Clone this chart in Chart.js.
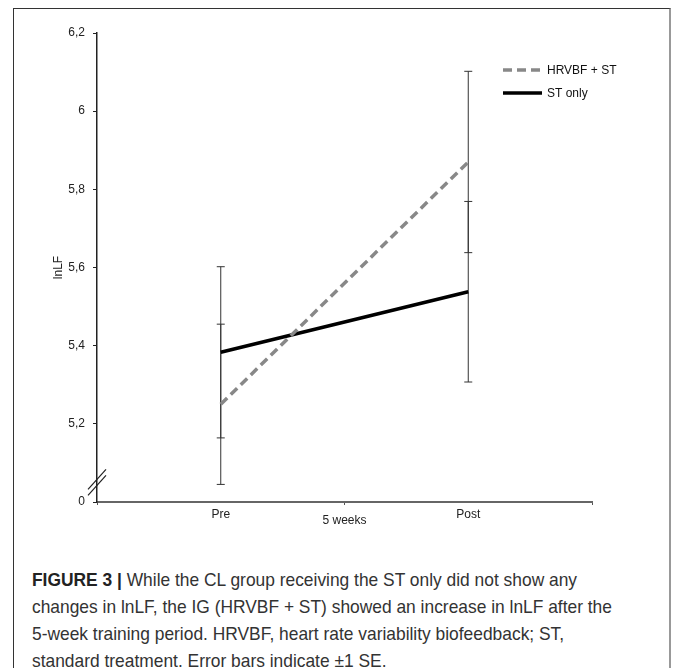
<!DOCTYPE html>
<html>
<head>
<meta charset="utf-8">
<script src="https://cdn.jsdelivr.net/npm/chart.js@4.4.1/dist/chart.umd.min.js"></script>
<style>
  body { margin: 0; background: #fff; }
  #frame { position: absolute; left: 13px; top: 8px; width: 655px; height: 700px;
           border-left: 1px solid #333; border-top: 1px solid #333; border-right: 2px solid #999; }
  #chart { position: absolute; left: 0; top: 0; }
  #caption { position: absolute; left: 32px; top: 566px; width: 680px;
             font-family: "Liberation Sans", Arial, sans-serif;
             font-size: 19px; line-height: 27px; color: #333; white-space: nowrap;
             transform: scaleX(0.915); transform-origin: left top; }
  #caption b { color: #222; }
</style>
</head>
<body>
<div id="frame"></div>
<canvas id="chart" width="675" height="555"></canvas>
<div id="caption">
<b>FIGURE 3 |</b> While the CL group receiving the ST only did not show any<br>
changes in lnLF, the IG (HRVBF + ST) showed an increase in lnLF after the<br>
5-week training period. HRVBF, heart rate variability biofeedback; ST,<br>
standard treatment. Error bars indicate &plusmn;1 SE.
</div>
<script>
'use strict';
// data
const categories = ['Pre', 'Post'];
const hrvbfMean = [5.25, 5.87];
const hrvbfSE = [0.205, 0.232];
const stMean = [5.383, 5.538];
const stSE = [0.219, 0.231];
const yTicks = [5, 5.2, 5.4, 5.6, 5.8, 6, 6.2];

const font = { family: '"Liberation Sans", Arial, sans-serif', size: 12 };

// error bars, drawn under the lines
const errorBars = {
  id: 'errorBars',
  beforeDatasetsDraw(chart) {
    const ctx = chart.ctx;
    const x = chart.scales.x, y = chart.scales.y;
    ctx.save();
    ctx.strokeStyle = '#333';
    ctx.lineWidth = 1;
    chart.data.datasets.forEach(ds => {
      ds.data.forEach((v, i) => {
        const px = x.getPixelForValue(i);
        const top = y.getPixelForValue(v + ds.se[i]);
        const bot = y.getPixelForValue(v - ds.se[i]);
        ctx.beginPath();
        ctx.moveTo(px, top); ctx.lineTo(px, bot);
        ctx.moveTo(px - 4, top); ctx.lineTo(px + 4, top);
        ctx.moveTo(px - 4, bot); ctx.lineTo(px + 4, bot);
        ctx.stroke();
      });
    });
    ctx.restore();
  }
};

// axis break mark and legend in the upper right
const extras = {
  id: 'extras',
  afterDraw(chart) {
    const ctx = chart.ctx;
    const y = chart.scales.y;
    const ax = chart.chartArea.left;
    const yb = y.getPixelForValue(5.05);
    ctx.save();
    ctx.strokeStyle = '#222';
    ctx.lineWidth = 1.2;
    [-3, 3].forEach(d => {
      ctx.beginPath();
      ctx.moveTo(ax - 9, yb + d + 10);
      ctx.lineTo(ax + 9, yb + d - 10);
      ctx.stroke();
    });

    const lx = 503, ly = 70;
    chart.data.datasets.forEach((ds, i) => {
      const yy = ly + i * 23;
      ctx.beginPath();
      ctx.strokeStyle = ds.borderColor;
      ctx.lineWidth = ds.borderWidth;
      ctx.setLineDash(ds.borderDash || []);
      ctx.moveTo(lx, yy); ctx.lineTo(lx + 39, yy);
      ctx.stroke();
      ctx.setLineDash([]);
      ctx.fillStyle = '#111';
      ctx.font = '12px ' + font.family;
      ctx.textBaseline = 'middle';
      ctx.fillText(ds.label, lx + 44, yy + 1);
    });
    ctx.restore();
  }
};

new Chart(document.getElementById('chart'), {
  type: 'line',
  data: {
    labels: categories,
    datasets: [
      { label: 'HRVBF + ST', data: hrvbfMean, se: hrvbfSE, borderColor: '#888',
        borderWidth: 3.5, borderDash: [9, 5], pointRadius: 0, tension: 0 },
      { label: 'ST only', data: stMean, se: stSE, borderColor: '#000',
        borderWidth: 3.5, pointRadius: 0, tension: 0 }
    ]
  },
  options: {
    responsive: false,
    animation: false,
    layout: { padding: { left: 0, right: 83, top: 33, bottom: 0 } },
    plugins: { legend: { display: false }, tooltip: { enabled: false } },
    scales: {
      x: {
        offset: true,
        grid: { offset: true, drawOnChartArea: false, drawTicks: true, tickLength: 3, color: '#555' },
        border: { color: '#666', width: 2 },
        ticks: { color: '#222', font: font, padding: 2 },
        title: { display: true, text: '5 weeks', color: '#222', font: font, padding: { top: 0, bottom: 27 } },
        afterFit(s) { s.height = 53; }
      },
      y: {
        min: 5, max: 6.2,
        afterBuildTicks(s) { s.ticks = yTicks.map(v => ({ value: v })); },
        grid: { drawOnChartArea: false, drawTicks: true, tickLength: 4, color: '#222' },
        border: { color: '#222', width: 1.5 },
        ticks: {
          color: '#222', font: font, padding: 8,
          callback: v => v === 5 ? '0' : String(Math.round(v * 10) / 10).replace('.', ',')
        },
        title: { display: true, text: 'lnLF', color: '#222', font: font, padding: { top: 51, bottom: 0 } },
        afterFit(s) { s.width = 97; }
      }
    }
  },
  plugins: [errorBars, extras]
});
</script>
</body>
</html>
